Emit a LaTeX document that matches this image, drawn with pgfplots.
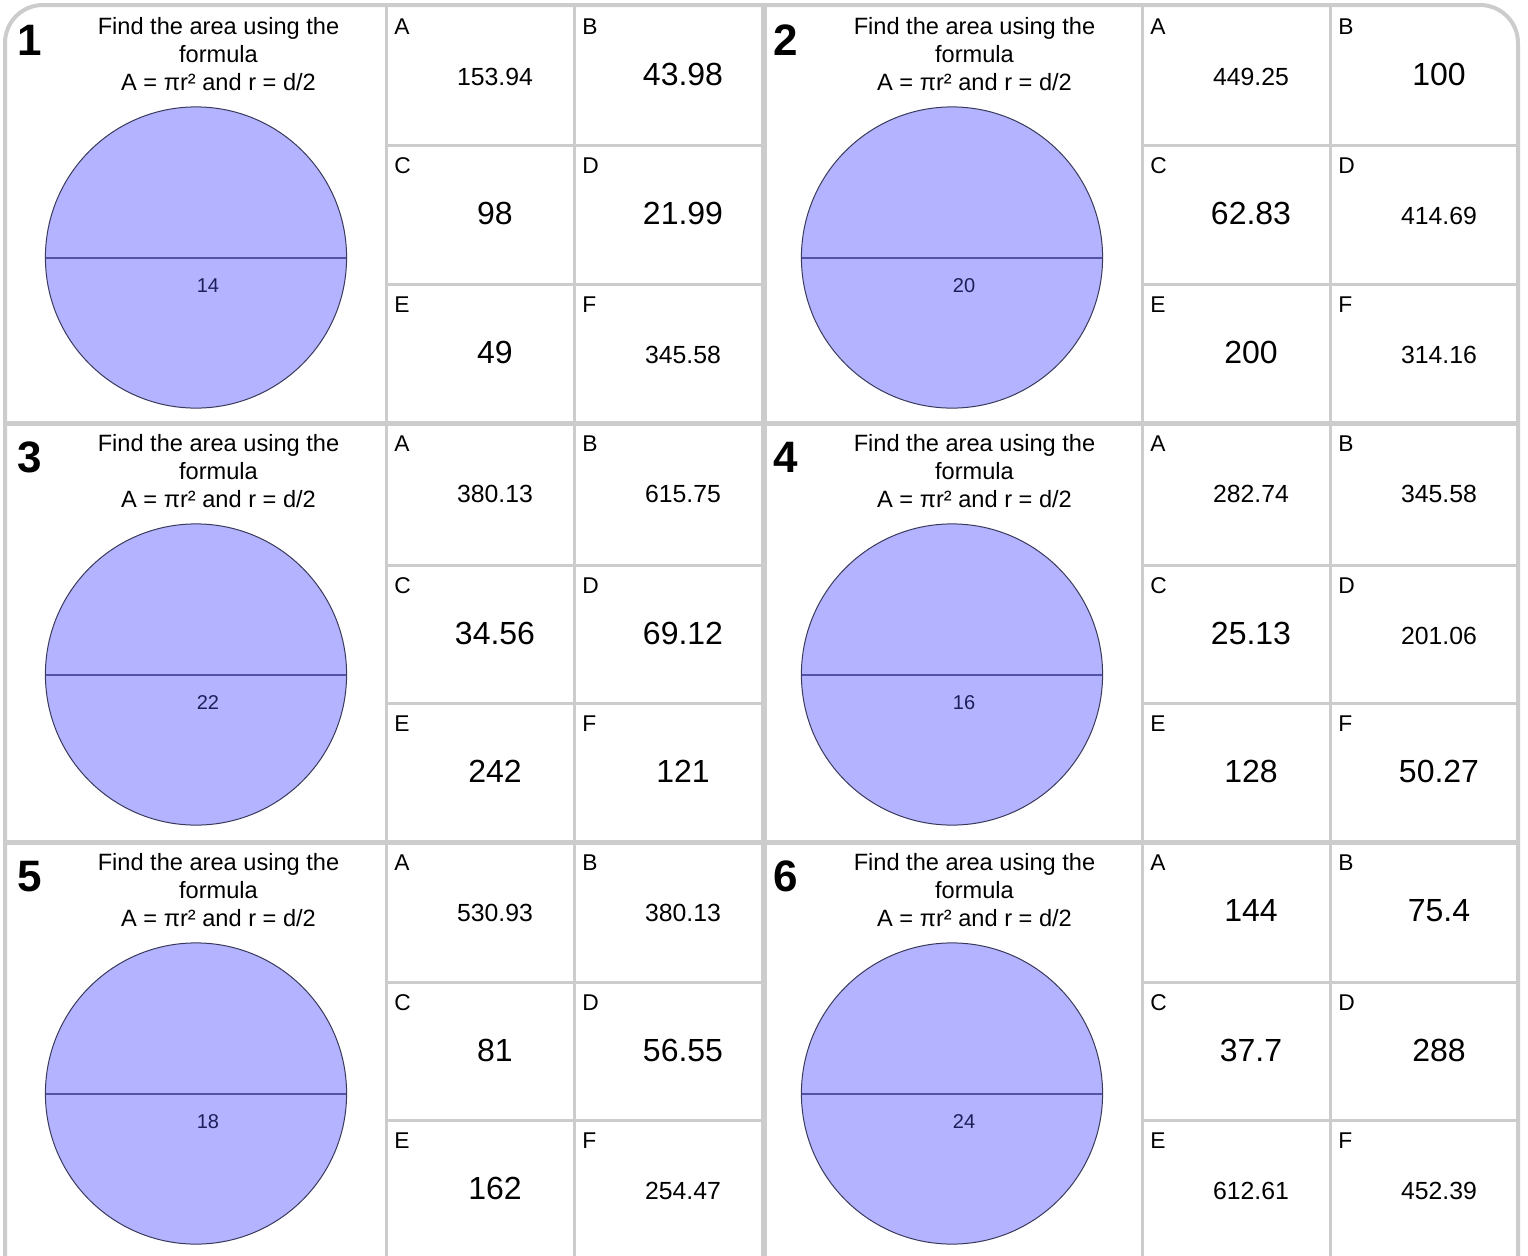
\documentclass[border=0pt]{standalone}
\usepackage{fontspec}
\setmainfont{Liberation Sans}
\usepackage{pgfplots}
\pgfplotsset{compat=1.18}

\definecolor{gridgray}{HTML}{CCCCCC}
\definecolor{circfill}{HTML}{B3B3FF}
\definecolor{circedge}{HTML}{3A3A5C}
\definecolor{diamline}{HTML}{5252A8}
\definecolor{labelblue}{HTML}{1E1E5A}

% answer cell: left x, top y, letter, value, font size (pt)
\newcommand\ans[5]{%
  \node[anchor=base west,inner sep=0pt,font=\fontsize{11.4}{13}\selectfont] at (axis cs:{#1+8},{#2+28}) {#3};
  \node[anchor=base,inner sep=0pt,font=\fontsize{#5}{#5}\selectfont] at (axis cs:{#1+109},{#2+79}) {#4};
}
% panel text: x shift, row top, number, diameter
\newcommand\panel[4]{%
  \node[anchor=base,inner sep=0pt,font=\bfseries\fontsize{22}{24}\selectfont] at (axis cs:{29.5+#1},{#2+49}) {#3};
  \node[anchor=base,inner sep=0pt,font=\fontsize{11.8}{14}\selectfont] at (axis cs:{218.5+#1},{#2+28}) {Find the area using the};
  \node[anchor=base,inner sep=0pt,font=\fontsize{11.8}{14}\selectfont] at (axis cs:{218.5+#1},{#2+56}) {formula};
  \node[anchor=base,inner sep=0pt,font=\fontsize{11.8}{14}\selectfont] at (axis cs:{218.5+#1},{#2+84}) {A = πr² and r = d/2};
  \node[anchor=base,inner sep=0pt,font=\fontsize{10}{12}\selectfont,text=labelblue] at (axis cs:{208+#1},{#2+286}) {#4};
}

\begin{document}
\begin{tikzpicture}
\useasboundingbox (0,0) rectangle (764pt,627.5pt);
\begin{axis}[
    scale only axis,
    width=764pt, height=627.5pt,
    xmin=0, xmax=1528, ymin=0, ymax=1255,
    y dir=reverse,
    hide axis,
    clip marker paths=true,
]
% circles
\addplot[only marks, mark=*, mark size=75.3pt,
    mark options={fill=circfill, draw=circedge, line width=0.5pt}]
    coordinates {(196,257.5) (952,257.5) (196,674.5) (952,674.5) (196,1093.5) (952,1093.5)};
% diameters
\addplot[diamline, line width=1pt] coordinates {(45.7,257.5) (346.3,257.5)};
\addplot[diamline, line width=1pt] coordinates {(801.7,257.5) (1102.3,257.5)};
\addplot[diamline, line width=1pt] coordinates {(45.7,674.5) (346.3,674.5)};
\addplot[diamline, line width=1pt] coordinates {(801.7,674.5) (1102.3,674.5)};
\addplot[diamline, line width=1pt] coordinates {(45.7,1093.5) (346.3,1093.5)};
\addplot[diamline, line width=1pt] coordinates {(801.7,1093.5) (1102.3,1093.5)};

% grid lines
\addplot[gridgray, line width=1.5pt] coordinates {(386,5) (386,1262)};
\addplot[gridgray, line width=1.5pt] coordinates {(574,5) (574,1262)};
\addplot[gridgray, line width=1.5pt] coordinates {(1142,5) (1142,1262)};
\addplot[gridgray, line width=1.5pt] coordinates {(1330,5) (1330,1262)};
\addplot[gridgray, line width=3pt] coordinates {(764,5) (764,1262)};
\addplot[gridgray, line width=2.5pt] coordinates {(5,423) (1518,423)};
\addplot[gridgray, line width=2.5pt] coordinates {(5,842) (1518,842)};
\addplot[gridgray, line width=1.5pt] coordinates {(386,145) (764,145)};
\addplot[gridgray, line width=1.5pt] coordinates {(386,284) (764,284)};
\addplot[gridgray, line width=1.5pt] coordinates {(1142,145) (1518,145)};
\addplot[gridgray, line width=1.5pt] coordinates {(1142,284) (1518,284)};
\addplot[gridgray, line width=1.5pt] coordinates {(386,565) (764,565)};
\addplot[gridgray, line width=1.5pt] coordinates {(386,703) (764,703)};
\addplot[gridgray, line width=1.5pt] coordinates {(1142,565) (1518,565)};
\addplot[gridgray, line width=1.5pt] coordinates {(1142,703) (1518,703)};
\addplot[gridgray, line width=1.5pt] coordinates {(386,982) (764,982)};
\addplot[gridgray, line width=1.5pt] coordinates {(386,1120) (764,1120)};
\addplot[gridgray, line width=1.5pt] coordinates {(1142,982) (1518,982)};
\addplot[gridgray, line width=1.5pt] coordinates {(1142,1120) (1518,1120)};
% outer frame
\addplot[gridgray, line width=2pt, rounded corners=19pt]
    coordinates {(5,1265) (5,5) (1518,5) (1518,1265)};

% panel texts
\panel{0}{6}{1}{14}
\panel{756}{6}{2}{20}
\panel{0}{423}{3}{22}
\panel{756}{423}{4}{16}
\panel{0}{842}{5}{18}
\panel{756}{842}{6}{24}

% panel 1
\ans{386}{6}{A}{153.94}{12.4}
\ans{574}{6}{B}{43.98}{16}
\ans{386}{145}{C}{98}{16}
\ans{574}{145}{D}{21.99}{16}
\ans{386}{284}{E}{49}{16}
\ans{574}{284}{F}{345.58}{12.4}
% panel 2
\ans{1142}{6}{A}{449.25}{12.4}
\ans{1330}{6}{B}{100}{16}
\ans{1142}{145}{C}{62.83}{16}
\ans{1330}{145}{D}{414.69}{12.4}
\ans{1142}{284}{E}{200}{16}
\ans{1330}{284}{F}{314.16}{12.4}
% panel 3
\ans{386}{423}{A}{380.13}{12.4}
\ans{574}{423}{B}{615.75}{12.4}
\ans{386}{565}{C}{34.56}{16}
\ans{574}{565}{D}{69.12}{16}
\ans{386}{703}{E}{242}{16}
\ans{574}{703}{F}{121}{16}
% panel 4
\ans{1142}{423}{A}{282.74}{12.4}
\ans{1330}{423}{B}{345.58}{12.4}
\ans{1142}{565}{C}{25.13}{16}
\ans{1330}{565}{D}{201.06}{12.4}
\ans{1142}{703}{E}{128}{16}
\ans{1330}{703}{F}{50.27}{16}
% panel 5
\ans{386}{842}{A}{530.93}{12.4}
\ans{574}{842}{B}{380.13}{12.4}
\ans{386}{982}{C}{81}{16}
\ans{574}{982}{D}{56.55}{16}
\ans{386}{1120}{E}{162}{16}
\ans{574}{1120}{F}{254.47}{12.4}
% panel 6
\ans{1142}{842}{A}{144}{16}
\ans{1330}{842}{B}{75.4}{16}
\ans{1142}{982}{C}{37.7}{16}
\ans{1330}{982}{D}{288}{16}
\ans{1142}{1120}{E}{612.61}{12.4}
\ans{1330}{1120}{F}{452.39}{12.4}
\end{axis}
\end{tikzpicture}
\end{document}
